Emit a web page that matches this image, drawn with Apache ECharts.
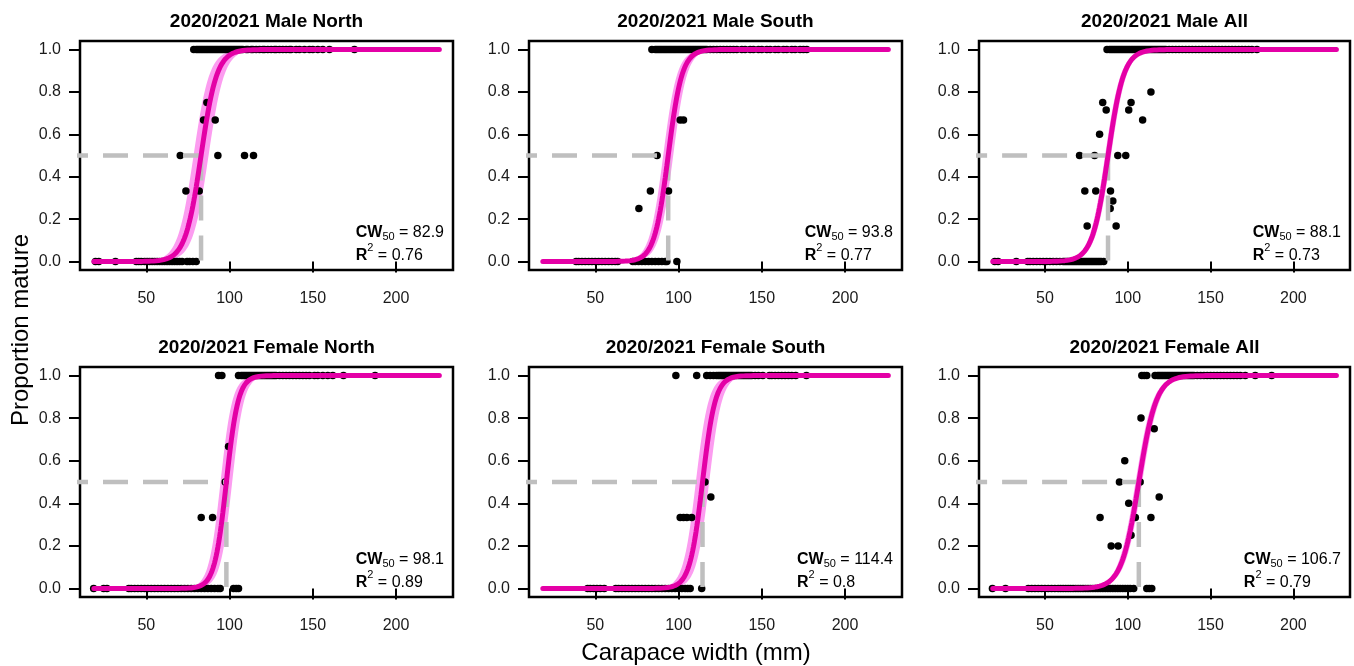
<!DOCTYPE html>
<html>
<head>
<meta charset="utf-8">
<title>CW50 maturity curves</title>
<script src="https://cdn.jsdelivr.net/npm/echarts@6/dist/echarts.min.js"></script>
<style>
    html, body { margin: 0; padding: 0; background: #fff; }
    #main { width: 1354px; height: 666px; }
</style>
</head>
<body>
<div id="main"></div>
<script>
// 刻度
var xTicks = [50, 100, 150, 200];
var yTicks = [0, 0.2, 0.4, 0.6, 0.8, 1.0];

// 面板标题 + 拟合参数
var titles = ['2020/2021 Male North', '2020/2021 Male South', '2020/2021 Male All',
    '2020/2021 Female North', '2020/2021 Female South', '2020/2021 Female All'];
var cw50 = [82.9, 93.8, 88.1, 98.1, 114.4, 106.7];
var r2Text = ['0.76', '0.77', '0.73', '0.89', '0.8', '0.79'];
var slope = [0.21, 0.24, 0.21, 0.28, 0.26, 0.19];
var ciHalf = [4.5, 3, 1.8, 3.5, 4, 2];
var curveFrom = 18.5, curveTo = 226;

// Male North
var mnOnes = [78.5, 80, 81, 82, 83, 84, 85, 86, 87, 88, 89, 90, 91, 92, 93, 94, 95, 96, 97, 98, 99, 100, 101, 102, 103, 104, 105, 106, 107, 108, 110, 111, 113, 114, 116, 118, 120, 121, 123, 125, 127, 128, 130, 132, 134, 136, 137, 140, 142, 145, 148, 150, 153, 156, 160, 175];
var mnZeros = [19.5, 21.5, 31.5, 44, 45.5, 47, 49, 50.5, 52, 53.5, 55, 56.5, 58, 59.5, 61, 62.5, 64, 65.5, 67, 68.5, 70, 71.5, 74.5, 76, 78, 80];
var mnPartial = [[86.4, 0.75], [84.4, 0.667], [91.4, 0.667], [70.4, 0.5], [93, 0.5], [109, 0.5], [114.4, 0.5], [73.8, 0.333], [81.8, 0.333]];

// Male South
var msOnes = [84, 86, 87, 88, 89, 90, 91, 92, 93, 94, 95, 96, 97, 98, 99, 100, 101, 102, 103, 104, 105, 106, 107, 108, 109, 110, 111, 112, 113, 114, 115, 116, 117, 119, 121, 123, 125, 127, 129, 131, 133, 135, 138, 140, 143, 145, 148, 150, 153, 155, 158, 160, 163, 165, 168, 170, 173, 175, 177];
var msZeros = [38.5, 40, 42, 44, 46, 48, 50, 52, 54, 56, 58, 60, 62, 63.5, 72.5, 74, 76, 78, 80, 82, 84, 86, 88, 90, 92, 93, 99];
var msPartial = [[101, 0.667], [103, 0.667], [87.1, 0.5], [83.1, 0.333], [94, 0.333], [76.2, 0.25]];

// Male All
var maOnes = [87.5, 89, 90, 91, 92, 93, 94, 95, 96, 97, 98, 99, 100, 101, 102, 103, 104, 105, 106, 107, 108, 109, 110, 111, 112, 113, 114, 115, 116, 117, 118, 119, 120, 121, 122, 123, 125, 127, 129, 131, 133, 135, 137, 139, 141, 143, 145, 147, 149, 151, 153, 155, 157, 159, 161, 163, 165, 167, 169, 171, 173, 175, 178];
var maZeros = [19.7, 21.7, 32.7, 39.6, 41, 43, 45, 47, 49, 51, 53, 55, 57, 59, 61, 62, 63, 64, 65, 66, 67, 68, 69, 70, 71, 72, 73, 74, 75, 76, 77, 78, 79, 80, 81, 82, 83, 84, 85.5];
var maPartial = [[114, 0.8], [84.9, 0.75], [102, 0.75], [87, 0.714], [100.6, 0.714], [109, 0.667], [83, 0.6], [70.9, 0.5], [80, 0.5], [94, 0.5], [98.8, 0.5], [74.1, 0.333], [80.7, 0.333], [89.6, 0.333], [91, 0.286], [89.4, 0.25], [93, 0.167], [75.5, 0.167]];

// Female North
var fnOnes = [93.4, 95.4, 105.4, 107, 108, 109, 110, 111, 112, 113, 114, 115, 116, 117, 118, 119, 120, 121, 122, 123, 124, 125, 126, 127, 128, 130, 132, 134, 136, 138, 140, 142, 144, 146, 148, 151, 153, 156, 159, 162, 168.4, 187.4];
var fnZeros = [18.4, 24.4, 26.4, 39.5, 41, 43, 45, 47, 49, 51, 53, 55, 57, 59, 61, 63, 65, 67, 69, 71, 73, 75, 77, 79, 81, 83, 85, 87, 89, 91, 93, 94.4, 102.4, 104, 105.4];
var fnPartial = [[99.4, 0.667], [97.4, 0.5], [83, 0.333], [89.8, 0.333]];

// Female South
var fsOnes = [98.4, 110.9, 116.9, 119, 121, 122.8, 124, 125, 126, 127, 128, 129, 130, 131, 132, 133, 134, 135, 136, 137, 138, 139, 140, 141, 142, 143, 144, 146, 148, 150.6, 154.6, 156, 158, 160, 162, 164, 166, 168, 170.4, 176.8];
var fsZeros = [45.4, 47, 49, 51, 53, 55.4, 62.3, 64, 66, 68, 70, 72, 74, 76, 78, 80, 82, 84, 86, 88, 90, 92, 94, 96, 98, 100, 102, 104, 105.5, 107, 113.9];
var fsPartial = [[115.9, 0.5], [119.4, 0.429], [101, 0.333], [103, 0.333], [105, 0.333], [107.9, 0.333]];

// Female All
var faOnes = [108.5, 110, 111.5, 116.5, 118, 119, 120, 121, 122, 123, 124, 125, 126, 127, 128, 129, 130, 131, 132, 133, 134, 135, 136, 137, 138, 139, 140, 142, 144, 146, 148, 150, 152, 154, 156, 158, 160, 162, 164, 166, 168, 171, 177, 186.9];
var faZeros = [18.3, 26.2, 40, 42, 44, 46, 48, 50, 52, 54, 56, 58, 59.5, 61, 62.5, 64, 65.5, 67, 68.5, 70, 71.5, 73, 74.5, 76, 77.5, 79, 80.5, 82, 83.5, 85, 86.5, 88, 89.5, 91, 92.5, 94, 95.5, 97, 98.5, 100, 101.5, 103.6, 111.5, 113, 114.5];
var faPartial = [[108, 0.8], [116, 0.75], [98.2, 0.6], [95, 0.5], [107.5, 0.5], [119, 0.429], [100.6, 0.4], [83.3, 0.333], [104.6, 0.333], [114, 0.333], [102, 0.25], [90, 0.2], [94.2, 0.2]];

var onesList = [mnOnes, msOnes, maOnes, fnOnes, fsOnes, faOnes];
var zerosList = [mnZeros, msZeros, maZeros, fnZeros, fsZeros, faZeros];
var partialList = [mnPartial, msPartial, maPartial, fnPartial, fsPartial, faPartial];

(function () {
    var FONT = '"Liberation Sans", Arial, sans-serif';
    var MAGENTA = '#e400a6';
    var BAND = '#fc9cf0';
    var GREY = '#bfbfbf';

    // 面板位置 (px)
    var colLeft = [80, 529, 979];
    var colWidth = [373, 373, 371];
    var rowTop = [41, 367];
    var rowHeight = [229, 230];

    // 量文字宽度, 用于右对齐整块注释 (行内左对齐)
    var ctx = document.createElement('canvas').getContext('2d');
    function textW(str, font) {
        ctx.font = font;
        return ctx.measureText(str).width;
    }

    function logistic(x, mid, b) {
        return 1 / (1 + Math.exp(-b * (x - mid)));
    }

    var grids = [], xAxes = [], yAxes = [], series = [], graphics = [];

    titles.forEach(function (title, i) {
        var r = Math.floor(i / 3), c = i % 3;
        var L = colLeft[c], T = rowTop[r], W = colWidth[c], H = rowHeight[r];

        grids.push({
            left: L, top: T, width: W, height: H,
            show: true, borderColor: '#000', borderWidth: 2.5,
            backgroundColor: 'transparent', containLabel: false, outerBoundsMode: 'none'
        });
        xAxes.push({
            gridIndex: i, type: 'value', min: 10.2, max: 234.2,
            axisLine: { show: false },
            splitLine: { show: false },
            axisTick: { show: true, length: 11, customValues: xTicks, lineStyle: { color: '#000', width: 2 } },
            axisLabel: { customValues: xTicks, margin: 21, fontSize: 16, color: '#1a1a1a', fontFamily: FONT }
        });
        yAxes.push({
            gridIndex: i, type: 'value', min: -0.04, max: 1.04,
            axisLine: { show: false },
            splitLine: { show: false },
            axisTick: { show: true, length: 11, customValues: yTicks, lineStyle: { color: '#000', width: 2 } },
            axisLabel: {
                customValues: yTicks, margin: 19, fontSize: 16, color: '#1a1a1a', fontFamily: FONT,
                formatter: function (v) { return v.toFixed(1); }
            }
        });

        // 拟合曲线与置信带
        var fit = [], upper = [], lower = [];
        for (var x = curveFrom; x <= curveTo + 1e-9; x += 0.5) {
            fit.push([x, logistic(x, cw50[i], slope[i])]);
            upper.push([x, logistic(x, cw50[i] - ciHalf[i], slope[i])]);
            lower.push([x, logistic(x, cw50[i] + ciHalf[i], slope[i])]);
        }

        series.push({
            type: 'custom', xAxisIndex: i, yAxisIndex: i, silent: true, z: 1,
            data: [[curveFrom, 0]],
            renderItem: function (params, api) {
                var pts = upper.map(function (p) { return api.coord(p); })
                    .concat(lower.slice().reverse().map(function (p) { return api.coord(p); }));
                return { type: 'polygon', shape: { points: pts }, style: { fill: BAND, opacity: 1 } };
            }
        });

        var pts = onesList[i].map(function (v) { return [v, 1]; })
            .concat(zerosList[i].map(function (v) { return [v, 0]; }))
            .concat(partialList[i]);
        series.push({
            type: 'scatter', xAxisIndex: i, yAxisIndex: i, silent: true, z: 2,
            symbolSize: 7.5, itemStyle: { color: '#000', opacity: 1 }, data: pts
        });

        // 50% 虚线
        series.push({
            type: 'line', xAxisIndex: i, yAxisIndex: i, silent: true, z: 3, clip: true,
            symbol: 'none', data: [[0, 0.5], [cw50[i], 0.5]],
            lineStyle: { color: GREY, width: 4.5, type: [25, 15] }
        });
        series.push({
            type: 'line', xAxisIndex: i, yAxisIndex: i, silent: true, z: 3, clip: true,
            symbol: 'none', data: [[cw50[i], 0.5], [cw50[i], 0]],
            lineStyle: { color: GREY, width: 4.5, type: [25, 15] }
        });

        series.push({
            type: 'line', xAxisIndex: i, yAxisIndex: i, silent: true, z: 4,
            symbol: 'none', showSymbol: false, data: fit,
            lineStyle: { color: MAGENTA, width: 5, cap: 'round' }
        });

        // 标题
        graphics.push({
            type: 'text', x: L + W / 2, y: r === 0 ? 22 : 348,
            style: {
                text: title, fill: '#000', font: 'bold 19px ' + FONT,
                align: 'center', verticalAlign: 'middle', textAlign: 'center', textVerticalAlign: 'middle'
            }
        });

        // CW50 / R2 注释
        var valText = ' = ' + cw50[i];
        var blockW = textW('CW', 'bold 16px ' + FONT) + textW('50', '11px ' + FONT) + textW(valText, '16px ' + FONT);
        var base = { fontFamily: FONT, fontSize: 16, fill: '#000', lineHeight: 23 };
        graphics.push({
            type: 'text', x: L + W - 9 - blockW, y: T + H - 3,
            style: {
                text: '{b|CW}{sub|50}{n|' + valText + '}\n{b|R}{sup|2}{n| = ' + r2Text[i] + '}',
                align: 'left', verticalAlign: 'bottom', textAlign: 'left', textVerticalAlign: 'bottom',
                fontFamily: FONT, fontSize: 16, fill: '#000',
                rich: {
                    b: Object.assign({}, base, { fontWeight: 'bold' }),
                    n: base,
                    sub: Object.assign({}, base, { fontSize: 11, padding: [9, 0, 0, 0] }),
                    sup: Object.assign({}, base, { fontSize: 11, padding: [0, 0, 15, 0] })
                }
            }
        });
    });

    // 轴标题
    graphics.push({
        type: 'text', x: 21, y: 330, rotation: Math.PI / 2,
        style: {
            text: 'Proportion mature', fill: '#000', font: '24px ' + FONT,
            align: 'center', verticalAlign: 'middle', textAlign: 'center', textVerticalAlign: 'middle'
        }
    });
    graphics.push({
        type: 'text', x: 696, y: 653,
        style: {
            text: 'Carapace width (mm)', fill: '#000', font: '24px ' + FONT,
            align: 'center', verticalAlign: 'middle', textAlign: 'center', textVerticalAlign: 'middle'
        }
    });

    var myCharts = echarts.init(document.getElementById('main'));
    myCharts.setOption({
        animation: false,
        backgroundColor: '#fff',
        grid: grids,
        xAxis: xAxes,
        yAxis: yAxes,
        series: series,
        graphic: { elements: graphics }
    });
})();
</script>
</body>
</html>
